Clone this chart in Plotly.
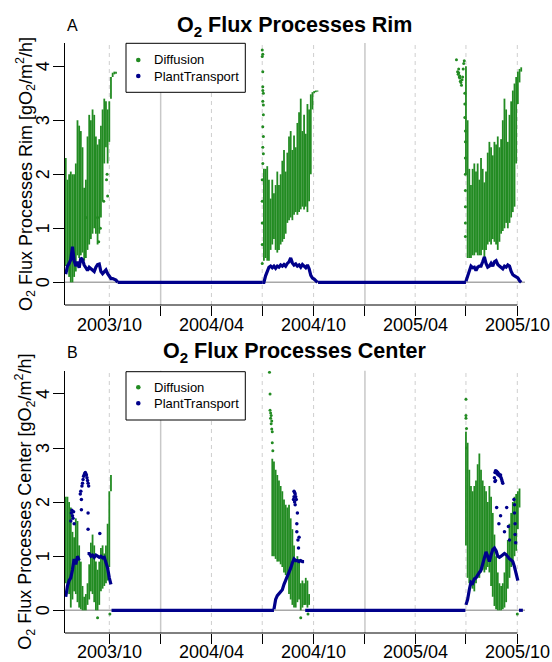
import pandas as pd
import plotly.graph_objects as go

GREEN = "#228B22"
NAVY = "#00008B"
FONT = "Liberation Sans, Arial, Helvetica, sans-serif"

# ---------------- axis ticks ----------------
label_ticks = ["2003-10-01", "2004-04-01", "2004-10-01", "2005-04-01", "2005-10-01"]
label_texts = ["2003/10", "2004/04", "2004/10", "2005/04", "2005/10"]
minor_ticks = ["2004-01-01", "2004-07-01", "2005-01-01", "2005-07-01"]
y_ticks = [0, 1, 2, 3, 4]

# ---------------- sampling of each growing season (every 3 days) ----------------
s1_start = "2003-07-15"
s2_start = "2004-07-01"
s3_start = "2005-07-01"
STEP = "3D"

# ================= RIM =================
# Diffusion: daily range (low / high) of hourly values
rim_s1_diff_hi = [2.3, 1.9, 2.0, 2.05, 2.0, 2.0, 2.2, 3.0, 2.9, 2.8, 2.5, 1.75, 1.9, 2.7, 3.1, 3.0,
                  3.2, 3.1, 2.7, 2.55, 2.65, 2.9, 3.2, 3.4, 3.35, 3.2, 3.35, 3.8, 3.88, 3.9, 3.9, None]
rim_s1_diff_lo = [0.3, 0.2, 0.1, 0.0, 0.0, 0.1, 0.2, 0.5, 0.45, 0.5, 0.55, 0.4, 0.45, 0.6, 0.7, 0.8,
                  0.9, 1.0, 0.9, 0.7, 0.9, 1.2, 1.5, 2.2, 2.5, 2.2, 2.6, 3.4, 3.8, 3.85, 3.86, None]
rim_s2_diff_hi = [None, 2.1, 2.1, 2.15, 1.9, 1.55, 1.9, 1.65, 1.8, 2.05, 1.8, 2.0, 2.25, 2.45, 2.05, 2.4,
                  2.7, 2.8, 2.45, 2.72, 2.5, 2.95, 3.15, 3.4, 2.8, 3.1, 2.75, 3.3, 3.2, 3.48, 3.52, 3.54,
                  3.55, 3.55]
rim_s2_diff_lo = [None, 0.4, 0.45, 0.4, 0.4, 0.6, 0.7, 0.8, 0.6, 0.55, 0.6, 0.7, 0.75, 0.8, 0.9, 1.1,
                  1.15, 1.2, 1.15, 1.25, 1.3, 1.25, 1.3, 1.35, 1.4, 1.35, 1.4, 1.3, 1.5, 2.0, 3.2, 3.5,
                  3.52, 3.53]
rim_s3_diff_hi = [4.0, 3.0, 2.1, 1.8, 2.1, 2.2, 2.05, 2.2, 1.9, 2.3, 2.1, 1.85, 2.05, 2.4, 2.6, 2.5,
                  2.35, 2.6, 2.55, 2.7, 2.5, 2.65, 3.0, 3.4, 3.2, 2.6, 3.1, 3.35, 3.55, 3.68, 3.8, 3.9,
                  3.95, 3.98]
rim_s3_diff_lo = [2.0, 0.45, 0.45, 0.45, 0.5, 0.5, 0.55, 0.5, 0.5, 0.5, 0.6, 0.4, 0.6, 0.7, 0.75, 0.7,
                  0.8, 0.75, 0.7, 0.6, 0.75, 0.9, 0.95, 1.0, 1.1, 1.0, 1.1, 1.2, 1.3, 1.4, 2.2, 3.3,
                  3.7, 3.9]
rim_diff_out_dates = ["2003-08-20", "2003-09-10", "2003-09-12", "2003-09-15", "2003-09-21", "2003-09-26",
                      "2003-09-27", "2003-09-28",
                      "2004-07-01", "2004-07-01", "2004-07-02", "2004-07-02", "2004-07-02", "2004-07-02",
                      "2004-07-03", "2004-07-02", "2004-07-03", "2004-07-03", "2004-07-02", "2004-07-03",
                      "2004-07-02", "2004-07-03", "2004-07-02", "2004-07-01", "2004-07-01", "2004-07-01",
                      "2004-07-01", "2004-07-01",
                      "2005-06-14", "2005-06-16", "2005-06-17", "2005-06-18", "2005-06-18", "2005-06-19",
                      "2005-06-20", "2005-06-20", "2005-06-21", "2005-06-22", "2005-06-23", "2005-06-24",
                      "2005-06-25", "2005-06-26", "2005-06-27", "2005-06-28", "2005-06-29", "2005-06-29",
                      "2005-06-29", "2005-06-30", "2005-06-30", "2005-06-30", "2005-06-30", "2005-06-30",
                      "2005-06-30", "2005-06-30", "2005-06-30"]
rim_diff_out_vals = [1.2, 1.2, 0.75, 1.0, 1.5, 1.9, 2.0, 1.6,
                     4.3, 4.18, 4.22, 3.9, 3.62, 3.55, 3.5, 3.35, 3.28, 3.1, 2.88, 2.7, 2.5, 2.38, 2.2,
                     1.9, 1.5, 1.1, 0.7, 0.35,
                     4.12, 3.9, 3.85, 3.88, 3.95, 3.8, 3.78, 3.82, 3.72, 3.7, 3.65, 3.75, 3.8, 3.95, 4.05,
                     4.1, 3.5, 3.3, 3.05, 2.8, 2.6, 2.3, 2.0, 1.7, 1.4, 1.1, 0.85]
# PlantTransport
rim_s1_plant = [0.15, 0.3, 0.35, 0.42, 0.66, 0.4, 0.3, 0.38, 0.27, 0.45, 0.42, 0.32, 0.27, 0.22, 0.28, 0.25,
                0.22, 0.2, 0.28, 0.33, 0.34, 0.2, 0.16, 0.2, 0.23, 0.16, 0.12, 0.07, 0.07, 0.06, 0.04, 0.0]
rim_s2_plant = [0.0, 0.0, 0.12, 0.22, 0.28, 0.3, 0.27, 0.3, 0.26, 0.3, 0.28, 0.32, 0.3, 0.33, 0.3, 0.35,
                0.38, 0.45, 0.36, 0.32, 0.34, 0.3, 0.32, 0.28, 0.33, 0.3, 0.27, 0.32, 0.25, 0.13, 0.08, 0.06,
                0.03, 0.0]
rim_s3_plant = [0.02, 0.12, 0.22, 0.3, 0.27, 0.28, 0.22, 0.28, 0.3, 0.3, 0.38, 0.47, 0.35, 0.28, 0.3, 0.35,
                0.3, 0.38, 0.4, 0.33, 0.3, 0.28, 0.25, 0.3, 0.28, 0.32, 0.3, 0.2, 0.14, 0.12, 0.1, 0.08,
                0.03, 0.0]
rim_zero_periods = [("2003-10-16", "2004-07-01"), ("2004-10-09", "2005-07-01")]
rim_plant_out_dates = []
rim_plant_out_vals = []

# ================= CENTER =================
cen_s1_diff_hi = [2.1, 2.1, 2.0, 1.9, 1.45, 1.35, 1.7, 1.65, 1.2, 0.9, 0.45, 0.25, 0.3, 0.5, 0.85, 1.25,
                  1.4, 1.2, 0.9, 0.75, 0.9, 1.15, 1.2, 1.05, 1.2, 1.6, 2.2, 2.5, None, None, None, None]
cen_s1_diff_lo = [0.5, 0.4, 0.3, 0.05, 0.2, 0.35, 0.3, 0.15, 0.05, 0.02, 0.0, 0.0, 0.0, 0.1, 0.2, 0.35,
                  0.3, 0.15, 0.0, 0.0, 0.1, 0.35, 0.4, 0.45, 0.5, 0.55, 0.8, 2.2, None, None, None, None]
cen_s2_diff_hi = [None, None, None, None, None, None, 2.8, 2.75, 2.6, 2.5, 2.4, 2.3, 2.2, 2.05, 1.95, 1.9,
                  1.95, 1.7, 1.5, 1.2, 0.9, 1.0, 0.95, 0.5, 0.55, 0.5, 0.6, 0.55, 0.3, None, None, None,
                  None, None]
cen_s2_diff_lo = [None, None, None, None, None, None, 1.0, 1.0, 0.95, 0.9, 0.9, 0.85, 0.8, 0.7, 0.65, 0.6,
                  0.3, 0.2, 0.1, 0.05, 0.05, 0.15, 0.2, 0.0, 0.05, 0.1, 0.1, 0.05, 0.1, None, None, None,
                  None, None]
cen_s3_diff_hi = [3.3, 3.1, 2.6, 2.3, 2.2, 2.3, 2.4, 2.7, 2.9, 2.6, 2.4, 2.3, 2.2, 2.0, 2.3, 2.1,
                  1.8, 1.4, 1.0, 0.7, 0.5, 0.45, 0.5, 0.7, 1.0, 1.3, 1.6, 1.8, 2.0, 2.1, 2.15, 2.2,
                  2.25, None]
cen_s3_diff_lo = [1.2, 0.6, 0.5, 0.45, 0.4, 0.35, 0.5, 0.6, 0.6, 0.7, 0.75, 0.7, 0.75, 0.8, 0.7, 0.45,
                  0.25, 0.08, 0.02, 0.0, 0.0, 0.0, 0.02, 0.05, 0.15, 0.4, 0.6, 0.8, 0.9, 1.0, 1.1, 1.5,
                  1.9, None]
cen_diff_out_dates = ["2003-09-10", "2003-10-02",
                      "2004-07-14", "2004-07-15", "2004-07-15", "2004-07-16", "2004-07-16", "2004-07-17",
                      "2004-07-17", "2004-07-18", "2004-07-18", "2004-07-19", "2004-07-19", "2004-07-20",
                      "2004-09-08", "2004-09-21",
                      "2005-07-01", "2005-07-01", "2005-07-01", "2005-07-02", "2005-07-02", "2005-10-01"]
cen_diff_out_vals = [-0.14, -0.07,
                     4.4, 4.0, 3.7, 3.65, 3.55, 3.6, 3.45, 3.5, 3.35, 3.3, 3.1, 2.95,
                     -0.14, -0.07,
                     3.9, 3.6, 3.55, 3.36, 3.0, -0.07]
cen_s1_plant = [0.25, 0.45, 0.55, 0.6, 0.75, 0.95, 0.85, 1.0, 0.92, None, None, None, None, 1.05, 1.05, 1.0,
                1.02, 0.98, 1.02, 1.0, 0.98, 1.0, 0.97, 0.98, 0.9, 0.78, 0.6, 0.48, None, None, None, None]
cen_s2_plant = [None, None, None, None, None, None, None, 0.02, 0.2, 0.27, 0.3, 0.33, 0.38, 0.48, 0.55, 0.62,
                0.72, 0.78, 0.88, 0.95, 0.92, 0.92, 0.9, 0.92, 0.9, 0.9, None, None, None, None, None,
                None, None, None]
cen_s3_plant = [0.1, 0.2, 0.38, 0.52, 0.5, 0.58, 0.6, 0.66, 0.7, 0.74, 0.85, 0.97, 1.08, 1.0, 0.9, 1.02,
                1.12, 1.15, 1.1, 1.0, 0.98, 1.0, 1.02, 1.05, 1.03, 0.98, 0.95, 0.93, 0.9, 0.8, 0.65, 0.55,
                None, None]
cen_zero_periods = [("2003-10-05", "2004-07-22"), ("2004-09-16", "2005-06-30"), ("2005-10-04", "2005-10-11")]
cen_plant_out_dates = ["2003-07-24", "2003-07-25", "2003-07-26", "2003-07-27", "2003-07-28", "2003-07-29",
                       "2003-07-30", "2003-08-10", "2003-08-11", "2003-08-12", "2003-08-12", "2003-08-13",
                       "2003-08-14", "2003-08-15", "2003-08-16", "2003-08-17", "2003-08-18", "2003-08-19",
                       "2003-08-20", "2003-08-21", "2003-08-22", "2003-08-23", "2003-08-24", "2003-08-25",
                       "2003-08-24", "2003-08-24", "2003-09-14",
                       "2004-08-26", "2004-08-27", "2004-08-27", "2004-08-28", "2004-08-28", "2004-08-29",
                       "2004-08-29", "2004-08-30", "2004-08-31", "2004-09-01", "2004-09-01", "2004-09-02",
                       "2004-09-03", "2004-09-04", "2004-09-05",
                       "2005-08-21", "2005-08-22", "2005-08-23", "2005-08-24", "2005-08-25", "2005-08-26",
                       "2005-08-27", "2005-08-28", "2005-08-29", "2005-08-30", "2005-08-31", "2005-09-01",
                       "2005-09-02", "2005-09-03", "2005-09-04", "2005-09-05", "2005-08-22", "2005-08-23",
                       "2005-08-25", "2005-08-29", "2005-09-01", "2005-09-08", "2005-09-12", "2005-09-15",
                       "2005-09-17", "2005-09-25", "2005-09-26", "2005-09-26", "2005-09-27", "2005-09-27",
                       "2005-09-28"]
cen_plant_out_vals = [1.65, 1.8, 1.85, 1.75, 1.7, 1.82, 1.6, 2.15, 2.2, 2.05, 1.86, 2.3,
                      2.35, 2.42, 2.48, 2.5, 2.53, 2.55, 2.52, 2.5, 2.45, 2.4, 2.35, 2.3,
                      1.8, 1.5, 1.42,
                      2.05, 2.2, 2.1, 2.18, 2.0, 2.15, 1.95, 2.1, 2.05, 1.6, 1.45, 1.8, 1.3, 1.15, 1.35,
                      2.45, 2.55, 2.58, 2.55, 2.57, 2.52, 2.55, 2.5, 2.52, 2.5, 2.48, 2.5, 2.45, 2.42,
                      2.38, 2.35, 2.38, 2.4,
                      1.9, 1.6, 1.75, 1.45, 1.9, 1.55, 1.3, 2.05, 1.95, 1.8, 1.6, 1.4, 1.25]

# ---------------- helpers ----------------
def season_dates(start, n):
    return [d.strftime("%Y-%m-%d") for d in pd.date_range(start, periods=n, freq=STEP)]


def band_xy(seasons):
    xs, ys = [], []
    for start, hi, lo in seasons:
        for d, h, l in zip(season_dates(start, len(hi)), hi, lo):
            if h is None:
                continue
            xs += [d, d, None]
            ys += [l, h, None]
    return xs, ys


def line_xy(seasons):
    xs, ys = [], []
    for start, vals in seasons:
        xs += season_dates(start, len(vals)) + [None]
        ys += list(vals) + [None]
    return xs, ys


def zero_xy(periods):
    xs, ys = [], []
    for a, b in periods:
        xs += [a, b, None]
        ys += [0, 0, None]
    return xs, ys


panels = [
    dict(name="Rim", xa="x", ya="y",
         band=[(s1_start, rim_s1_diff_hi, rim_s1_diff_lo), (s2_start, rim_s2_diff_hi, rim_s2_diff_lo),
               (s3_start, rim_s3_diff_hi, rim_s3_diff_lo)],
         dout=(rim_diff_out_dates, rim_diff_out_vals),
         plant=[(s1_start, rim_s1_plant), (s2_start, rim_s2_plant), (s3_start, rim_s3_plant)],
         zero=rim_zero_periods, pout=(rim_plant_out_dates, rim_plant_out_vals)),
    dict(name="Center", xa="x2", ya="y2",
         band=[(s1_start, cen_s1_diff_hi, cen_s1_diff_lo), (s2_start, cen_s2_diff_hi, cen_s2_diff_lo),
               (s3_start, cen_s3_diff_hi, cen_s3_diff_lo)],
         dout=(cen_diff_out_dates, cen_diff_out_vals),
         plant=[(s1_start, cen_s1_plant), (s2_start, cen_s2_plant), (s3_start, cen_s3_plant)],
         zero=cen_zero_periods, pout=(cen_plant_out_dates, cen_plant_out_vals)),
]

fig = go.Figure()
for p in panels:
    bx, by = band_xy(p["band"])
    fig.add_trace(go.Scatter(x=bx, y=by, mode="lines", line=dict(color=GREEN, width=1.8),
                             xaxis=p["xa"], yaxis=p["ya"], showlegend=False, hoverinfo="skip"))
    fig.add_trace(go.Scatter(x=p["dout"][0], y=p["dout"][1], mode="markers",
                             marker=dict(color=GREEN, size=3), xaxis=p["xa"], yaxis=p["ya"],
                             showlegend=False))
    lx, ly = line_xy(p["plant"])
    fig.add_trace(go.Scatter(x=lx, y=ly, mode="lines", line=dict(color=NAVY, width=3.2),
                             xaxis=p["xa"], yaxis=p["ya"], showlegend=False))
    zx, zy = zero_xy(p["zero"])
    fig.add_trace(go.Scatter(x=zx, y=zy, mode="lines", line=dict(color=NAVY, width=3.2),
                             xaxis=p["xa"], yaxis=p["ya"], showlegend=False))
    if p["pout"][0]:
        fig.add_trace(go.Scatter(x=p["pout"][0], y=p["pout"][1], mode="markers",
                                 marker=dict(color=NAVY, size=3.5), xaxis=p["xa"], yaxis=p["ya"],
                                 showlegend=False))

# ---------------- layout ----------------
W_PX, H_PX = 552, 662
ML, MR, MT, MB = 65, 27, 43, 29
PW, PH = W_PX - ML - MR, H_PX - MT - MB


def px(x):
    return (x - ML) / PW


def py(y):
    return (H_PX - MB - y) / PH


x_left = pd.Timestamp("2003-10-01") - pd.Timedelta(days=79.37)
x_right = x_left + pd.Timedelta(days=PW / (408 / 731))
xr = [x_left.strftime("%Y-%m-%d %H:%M"), x_right.strftime("%Y-%m-%d %H:%M")]

xax = dict(range=xr, type="date", showgrid=False, zeroline=False, showline=False, automargin=False,
           ticks="outside", ticklen=10, tickwidth=1, tickcolor="black",
           tickmode="array", tickvals=label_ticks, showticklabels=False,
           minor=dict(tickmode="array", tickvals=minor_ticks, ticks="outside", ticklen=10, tickwidth=1,
                      tickcolor="black", showgrid=False))
yax = dict(range=[-0.42, 4.43], showgrid=False, zeroline=False, showline=True, linecolor="black",
           linewidth=1, ticks="outside", ticklen=11, tickwidth=1, tickcolor="black", automargin=False,
           tickmode="array", tickvals=y_ticks, showticklabels=False)

domA = [py(305), 1.0]
domB = [0.0, py(370.7)]

fig.update_layout(
    width=W_PX, height=H_PX, margin=dict(l=ML, r=MR, t=MT, b=MB, autoexpand=False),
    plot_bgcolor="white", paper_bgcolor="white", font=dict(family=FONT, color="black"),
    showlegend=False,
    xaxis=dict(xax, anchor="y"), yaxis=dict(yax, domain=domA, anchor="x"),
    xaxis2=dict(xax, anchor="y2"), yaxis2=dict(yax, domain=domB, anchor="x2"),
)

shapes = []
annos = []
xlab_y = [325, 651.5]
for i, (xa, ya) in enumerate([("x", "y"), ("x2", "y2")]):
    for d in sorted(label_ticks + minor_ticks):
        jan = d.endswith("-01-01")
        shapes.append(dict(type="line", xref=xa, yref=ya + " domain", x0=d, x1=d, y0=0, y1=1,
                           layer="below",
                           line=dict(color="#C8C8C8" if jan else "#CFCFCF", width=1.5 if jan else 1,
                                     dash="solid" if jan else "4px,4px")))
    shapes.append(dict(type="line", xref=xa + " domain", yref=ya, x0=0, x1=1, y0=0, y1=0,
                       layer="below", line=dict(color="#A8A8A8", width=1.4)))
    shapes.append(dict(type="line", xref=xa, yref=ya + " domain", x0=xr[0], x1="2005-10-01",
                       y0=0, y1=0, line=dict(color="black", width=1)))
    # tick labels placed on the axes' own scales
    for d, t in zip(label_ticks, label_texts):
        annos.append(dict(text=t, xref=xa, yref="paper", x=d, y=py(xlab_y[i]), xanchor="center",
                          yanchor="middle", showarrow=False,
                          font=dict(size=18, family=FONT, color="black")))
    for v in y_ticks:
        annos.append(dict(text=str(v), xref="paper", yref=ya, x=px(43), y=v, xanchor="center",
                          yanchor="middle", textangle=-90, showarrow=False,
                          font=dict(size=18, family=FONT, color="black")))

# titles, panel letters, y titles
title_y = [27, 353]
letter_y = [25, 352]
names = ["Rim", "Center"]
ycent = [(43 + 305) / 2, (370.7 + 632.7) / 2]
for i in range(2):
    annos.append(dict(text="<b>O<sub>2</sub> Flux Processes %s</b>" % names[i], xref="paper", yref="paper",
                      x=px(294.5), y=py(title_y[i]), xanchor="center", yanchor="middle",
                      showarrow=False, font=dict(size=21.5, family=FONT, color="black")))
    annos.append(dict(text="AB"[i], xref="paper", yref="paper", x=px(72), y=py(letter_y[i]),
                      xanchor="center", yanchor="middle", showarrow=False,
                      font=dict(size=16, family=FONT, color="black")))
    annos.append(dict(text="O<sub>2</sub> Flux Processes %s [gO<sub>2</sub>/m<sup>2</sup>/h]" % names[i],
                      xref="paper", yref="paper", x=px(25), y=py(ycent[i]), xanchor="center",
                      yanchor="middle", textangle=-90, showarrow=False,
                      font=dict(size=18, family=FONT, color="black")))

# legends (drawn boxes)
leg_boxes = [(43.3, 92.3, 60, 76), (371.7, 420, 387.3, 403.3)]
for top, bot, r1, r2 in leg_boxes:
    shapes.append(dict(type="rect", xref="paper", yref="paper", x0=px(126), x1=px(245.3),
                       y0=py(bot), y1=py(top), fillcolor="white", line=dict(color="black", width=1)))
    for ry, col, lab in [(r1, GREEN, "Diffusion"), (r2, NAVY, "PlantTransport")]:
        shapes.append(dict(type="circle", xref="paper", yref="paper", xsizemode="pixel",
                           ysizemode="pixel", xanchor=px(138.3), yanchor=py(ry),
                           x0=-2.3, x1=2.3, y0=-2.3, y1=2.3, fillcolor=col, line=dict(width=0)))
        annos.append(dict(text=lab, xref="paper", yref="paper", x=px(151.5), y=py(ry),
                          xanchor="left", yanchor="middle", showarrow=False,
                          font=dict(size=13, family=FONT, color="black")))

fig.update_layout(shapes=shapes, annotations=annos)
fig.write_html("out.html")
